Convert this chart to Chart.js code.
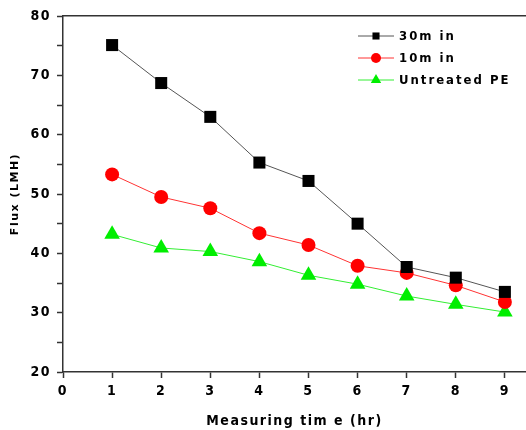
<!DOCTYPE html>
<html>
<head>
<meta charset="utf-8">
<script src="https://cdn.jsdelivr.net/npm/chart.js@4"></script>
<style>
  html, body { margin: 0; padding: 0; background: #fff; }
  #wrap { width: 526px; height: 430px; position: relative; }
</style>
</head>
<body>
<div id="wrap"><canvas id="chart"></canvas></div>
<script>
// measuring time (hr)
var hours = [1, 2, 3, 4, 5, 6, 7, 8, 9];
// flux values (LMH)
var flux30min = [75.1, 68.7, 63.0, 55.3, 52.2, 45.0, 37.7, 35.9, 33.5];
var flux10min = [53.3, 49.5, 47.6, 43.4, 41.4, 37.9, 36.7, 34.6, 31.8];
var fluxUntreated = [43.2, 40.9, 40.3, 38.6, 36.3, 34.8, 32.8, 31.4, 30.1];
var seriesNames = ['30m in', '10m in', 'Untreated PE'];

var narrow = '"DejaVu Sans Condensed", "Liberation Sans Narrow", sans-serif';

function toPoints(values) {
    return hours.map(function (h, i) { return { x: h, y: values[i] }; });
}

// letter spacing like the original plot
var spacingPlugin = {
    id: 'spacing',
    beforeDraw: function (chart) {
        chart.ctx.letterSpacing = '1.5px';
    }
};

// legend: line - marker - line, inside the plot at top right
var lineLegend = {
    id: 'lineLegend',
    afterDraw: function (chart) {
        var ctx = chart.ctx;
        var x0 = 358, y0 = 36, gap = 22;
        ctx.save();
        chart.data.datasets.forEach(function (ds, i) {
            var y = y0 + i * gap;
            ctx.strokeStyle = ds.borderColor;
            ctx.lineWidth = 1;
            ctx.beginPath();
            ctx.moveTo(x0, y);
            ctx.lineTo(x0 + 36, y);
            ctx.stroke();
            ctx.fillStyle = ds.pointBackgroundColor;
            ctx.strokeStyle = ds.pointBackgroundColor;
            Chart.helpers.drawPoint(ctx, {
                pointStyle: ds.pointStyle,
                radius: ds.pointStyle === 'triangle' ? 6 : 5,
                borderWidth: 0
            }, x0 + 18, y);
            ctx.fillStyle = '#000';
            ctx.letterSpacing = '2px';
            ctx.font = 'bold 13px ' + narrow;
            ctx.textBaseline = 'middle';
            ctx.fillText(ds.label, x0 + 41, y + 1);
        });
        ctx.restore();
    }
};

function noSidePadding(scale) {
    scale.paddingLeft = 0;
    scale.paddingRight = 0;
}

new Chart(document.getElementById('chart'), {
    type: 'line',
    data: {
        datasets: [
            {
                label: seriesNames[0],
                data: toPoints(flux30min),
                borderColor: '#555555',
                borderWidth: 1,
                pointStyle: 'rect',
                pointRadius: 8.5,
                pointBackgroundColor: '#000000',
                pointBorderColor: '#000000',
                pointBorderWidth: 0
            },
            {
                label: seriesNames[1],
                data: toPoints(flux10min),
                borderColor: '#ff3333',
                borderWidth: 1,
                pointStyle: 'circle',
                pointRadius: 7,
                pointBackgroundColor: '#ff0000',
                pointBorderColor: '#ff0000',
                pointBorderWidth: 0
            },
            {
                label: seriesNames[2],
                data: toPoints(fluxUntreated),
                borderColor: '#33ee33',
                borderWidth: 1,
                pointStyle: 'triangle',
                pointRadius: 9,
                pointBackgroundColor: '#00ee00',
                pointBorderColor: '#00ee00',
                pointBorderWidth: 0
            }
        ]
    },
    options: {
        responsive: true,
        maintainAspectRatio: false,
        animation: false,
        layout: { autoPadding: false, padding: { top: 16, right: 0, left: 0, bottom: 0 } },
        plugins: {
            legend: { display: false },
            tooltip: { enabled: false }
        },
        scales: {
            x: {
                type: 'linear',
                min: 0,
                max: 9.43,
                border: { color: '#333', width: 1.5 },
                grid: { drawOnChartArea: false, tickLength: 6, tickColor: '#333', tickWidth: 1.5 },
                ticks: {
                    stepSize: 1,
                    includeBounds: false,
                    maxRotation: 0,
                    color: '#000',
                    padding: 5,
                    font: { family: narrow, size: 14, weight: 'bold' }
                },
                title: {
                    display: true,
                    text: 'Measuring tim e (hr)',
                    color: '#000',
                    padding: { top: 9, bottom: 0 },
                    font: { family: narrow, size: 14, weight: 'bold' }
                },
                afterFit: function (scale) { scale.height = 58; noSidePadding(scale); }
            },
            xTop: {
                type: 'linear',
                position: 'top',
                min: 0,
                max: 9.43,
                border: { display: true, color: '#333', width: 1.5 },
                grid: { display: false, drawTicks: false },
                ticks: { display: false },
                afterFit: function (scale) { scale.height = 0; noSidePadding(scale); }
            },
            y: {
                min: 20,
                max: 80,
                border: { color: '#333', width: 1.5 },
                grid: { drawOnChartArea: false, tickLength: 6, tickColor: '#333', tickWidth: 1.5 },
                ticks: {
                    stepSize: 5,
                    color: '#000',
                    padding: 6,
                    font: { family: narrow, size: 14, weight: 'bold' },
                    callback: function (v) { return v % 10 === 0 ? String(v) : ''; }
                },
                title: {
                    display: true,
                    text: 'Flux (LMH)',
                    color: '#000',
                    padding: { top: 9, bottom: 0 },
                    font: { family: '"DejaVu Sans", sans-serif', size: 11, weight: 'bold' }
                },
                afterFit: function (scale) { scale.width = 63; }
            }
        }
    },
    plugins: [spacingPlugin, lineLegend]
});
</script>
</body>
</html>
